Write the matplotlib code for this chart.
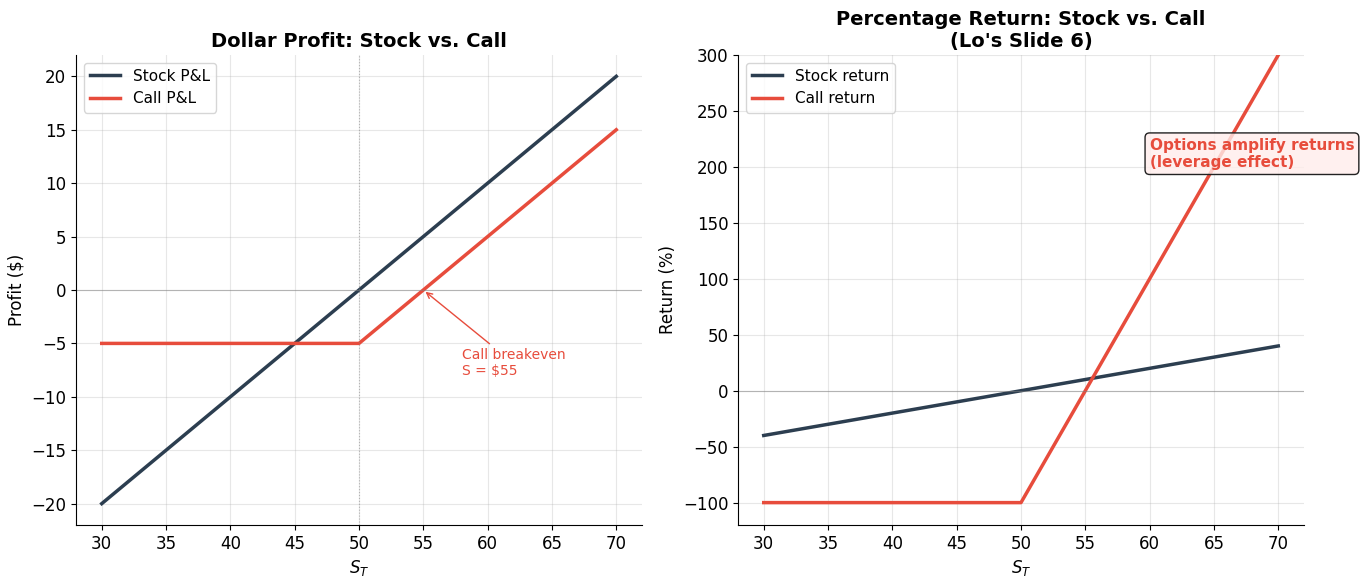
import matplotlib
matplotlib.use("Agg")
import matplotlib.pyplot as plt

# Data (breakpoints)
s_stock = [30, 70]
stock_pl = [-20, 20]
s_call = [30, 50, 70]
call_pl = [-5, -5, 15]
stock_ret = [-40, 40]
call_ret = [-100, -100, 300]
strike = 50
breakeven = 55

DARK = "#2c3e50"
RED = "#e74c3c"

W, H = 1363, 584
fig, (ax1, ax2) = plt.subplots(1, 2, figsize=(W / 100, H / 100), dpi=100)

# Left panel
ax1.plot(s_stock, stock_pl, color=DARK, lw=2.5, label="Stock P&L")
ax1.plot(s_call, call_pl, color=RED, lw=2.5, label="Call P&L")
ax1.axhline(0, color="gray", lw=0.8, alpha=0.5)
ax1.axvline(strike, color="gray", lw=0.8, ls=":", alpha=0.5)
ax1.annotate("Call breakeven\nS = $55", xy=(breakeven, 0), xytext=(58, -8),
             color=RED, fontsize=10,
             arrowprops=dict(arrowstyle="->", color=RED, lw=1))
ax1.set_xlabel("$S_T$", fontsize=12)
ax1.set_ylabel("Profit ($)", fontsize=12)
ax1.set_title("Dollar Profit: Stock vs. Call", fontsize=14, fontweight="bold")
ax1.legend(loc="upper left", fontsize=11)

# Right panel
ax2.plot(s_stock, stock_ret, color=DARK, lw=2.5, label="Stock return")
ax2.plot(s_call, call_ret, color=RED, lw=2.5, label="Call return")
ax2.axhline(0, color="gray", lw=0.8, alpha=0.5)
ax2.set_ylim(-120, 300)
ax2.text(60, 200, "Options amplify returns\n(leverage effect)", color=RED,
         fontsize=11, fontweight="bold",
         bbox=dict(boxstyle="round,pad=0.3", facecolor=(1.0, 0.93, 0.92, 0.8),
                   edgecolor="#222222"))
ax2.set_xlabel("$S_T$", fontsize=12)
ax2.set_ylabel("Return (%)", fontsize=12)
ax2.set_title("Percentage Return: Stock vs. Call\n(Lo's Slide 6)", fontsize=14, fontweight="bold")
ax2.legend(loc="upper left", fontsize=11)

for ax in (ax1, ax2):
    ax.grid(True, alpha=0.3)
    ax.spines["top"].set_visible(False)
    ax.spines["right"].set_visible(False)
    ax.tick_params(labelsize=12)

ax1.set_position([76 / W, 1 - 525 / H, (642 - 76) / W, (525 - 55) / H])
ax2.set_position([738 / W, 1 - 525 / H, (1304 - 738) / W, (525 - 55) / H])

fig.savefig("out.png", dpi=100)
